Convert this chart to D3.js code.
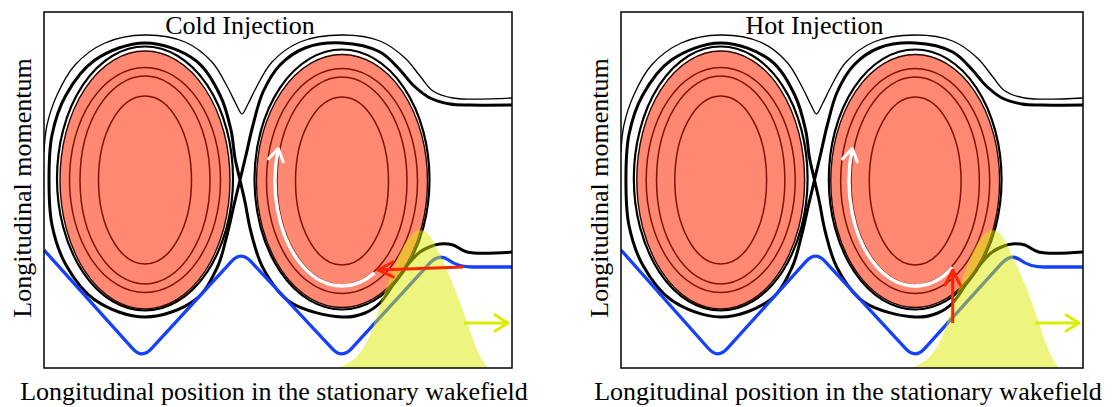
<!DOCTYPE html>
<meta charset="utf-8">
<html lang="en">
<head>
<title>Cold and hot injection in the stationary wakefield</title>
<style>
  body { margin: 0; background: #fff; }
  svg text { font-family: "Liberation Serif", "Times New Roman", serif; fill: #000; }
</style>
</head>
<body>
<svg width="1117" height="407"></svg>
<script src="https://d3js.org/d3.v7.min.js"></script>
<script>
// units: xi = longitudinal position, p = longitudinal momentum (0 at the bottom of the box)
var panelTitles = ["Cold Injection", "Hot Injection"]
var xLabel = "Longitudinal position in the stationary wakefield"
var yLabel = "Longitudinal momentum"

// open orbit above the buckets (thin line)
var outerOrbit = [
  [0, 2.16], [0.03, 2.43], [0.13, 2.73], [0.31, 3.03], [0.61, 3.25], [1.01, 3.33],
  [1.41, 3.26], [1.68, 3.06], [1.84, 2.80], [1.92, 2.64], [1.98, 2.54], [2.04, 2.64],
  [2.12, 2.80], [2.28, 3.06], [2.56, 3.26], [2.98, 3.33], [3.36, 3.27], [3.61, 3.10],
  [3.76, 2.92], [3.89, 2.77], [4.09, 2.70], [4.68, 2.70]
]

// separatrix, one stroke: right exit -> over bucket 2 -> X -> round bucket 1 -> X -> under bucket 2 -> right exit
var separatrix = [
  [4.68, 2.63], [4.26, 2.63], [4.06, 2.64], [3.86, 2.70], [3.69, 2.83], [3.56, 2.98],
  [3.36, 3.16], [2.98, 3.25], [2.61, 3.20], [2.36, 3.03], [2.19, 2.76], [2.09, 2.43],
  [2.02, 2.13], [1.96, 1.88], [1.90, 1.63], [1.83, 1.33], [1.73, 1.00], [1.51, 0.68],
  [1.01, 0.51], [0.51, 0.68], [0.22, 1.03], [0.08, 1.43], [0.05, 1.88], [0.08, 2.33],
  [0.22, 2.73], [0.51, 3.08], [1.01, 3.25], [1.51, 3.08], [1.76, 2.73], [1.87, 2.38],
  [1.91, 2.10], [1.96, 1.88], [2.01, 1.66], [2.07, 1.36], [2.19, 1.00], [2.46, 0.66],
  [2.98, 0.51], [3.21, 0.55], [3.36, 0.65], [3.49, 0.83], [3.61, 1.00], [3.76, 1.16],
  [3.88, 1.22], [3.96, 1.24], [4.09, 1.23], [4.23, 1.16], [4.68, 1.16]
]

var bucketCenters = [[1.01, 1.88], [2.98, 1.87]]
var bucketRadii = [[0.85, 1.29], [0.855, 1.265]]
var closedOrbitRadii = [[0.88, 1.32], [0.875, 1.30]]
var contourRadii = [[0.465, 0.84], [0.65, 1.04], [0.755, 1.125]]

// injection trajectory (blue)
var blueTrack = [[0, 1.18], [0.98, 0.09], [1.97, 1.17], [2.98, 0.09], [3.95, 1.15], [4.14, 1.01], [4.68, 1.01]]

// driver / beam profile (yellow)
var beamXi = [2.93, 3.06, 3.18, 3.28, 3.36, 3.46, 3.56, 3.66, 3.76, 3.86, 3.96, 4.06, 4.16, 4.24, 4.31, 4.38, 4.44]
var beamDensity = [0, 0.06, 0.18, 0.38, 0.63, 0.90, 1.15, 1.31, 1.38, 1.32, 1.13, 0.91, 0.66, 0.43, 0.23, 0.08, 0]
var beamArrow = [[4.2, 0.45], [4.64, 0.45]]

// white rotation arrow in bucket 2 (angles in degrees, screen sense)
var whiteArcRadii = [0.67, 1.05]
var whiteArcStart = [61, 55.5]
var whiteArcEnd = [198, 198]

// red injection arrows
var redArrowFrom = [[4.19, 1.01], [3.36, 0.45]]
var redArrowTo = [[3.34, 0.98], [3.36, 0.98]]

var panelLeft = [44, 621]
var panelRight = [512, 1083]
var panelTop = 12, panelBottom = 368

var salmon = '#fe8872', contourColor = '#7d1405', blue = '#1640ff'
var yellow = 'rgb(220,236,0)'

var svg = d3.select('svg')
var defs = svg.append('defs')

function marker(id, color, len, half) {
  defs.append('marker').attr('id', id)
    .attr('markerUnits', 'userSpaceOnUse')
    .attr('viewBox', '-20 -20 40 40')
    .attr('markerWidth', 40).attr('markerHeight', 40)
    .attr('refX', 0).attr('refY', 0).attr('orient', 'auto')
    .append('path')
    .attr('d', 'M' + (-len) + ',' + (-half) + 'L0,0L' + (-len) + ',' + half)
    .attr('fill', 'none').attr('stroke', color).attr('stroke-width', 3)
    .attr('stroke-linecap', 'round').attr('stroke-linejoin', 'round')
}
marker('head-red', '#ff2400', 15, 7.5)
marker('head-white', '#fff', 12, 7.5)
marker('head-yellow', yellow, 13, 8)

// straight segments with small rounded corners
function roundedPath(pts, r) {
  var p = d3.path()
  p.moveTo(pts[0][0], pts[0][1])
  for (var i = 1; i < pts.length - 1; i++) {
    var a = pts[i - 1], b = pts[i], c = pts[i + 1]
    var d1 = Math.hypot(b[0] - a[0], b[1] - a[1]), d2 = Math.hypot(c[0] - b[0], c[1] - b[1])
    var r1 = Math.min(r, d1 / 2), r2 = Math.min(r, d2 / 2)
    p.lineTo(b[0] - (b[0] - a[0]) * r1 / d1, b[1] - (b[1] - a[1]) * r1 / d1)
    p.quadraticCurveTo(b[0], b[1], b[0] + (c[0] - b[0]) * r2 / d2, b[1] + (c[1] - b[1]) * r2 / d2)
  }
  var last = pts[pts.length - 1]
  p.lineTo(last[0], last[1])
  return p.toString()
}

panelTitles.forEach(function (title, k) {
  var x = d3.scaleLinear().domain([0, 4.68]).range([panelLeft[k], panelRight[k]])
  var y = d3.scaleLinear().domain([0, 3.56]).range([panelBottom, panelTop])

  var clipId = 'clip' + k
  defs.append('clipPath').attr('id', clipId).append('rect')
    .attr('x', x(0)).attr('y', y(3.56)).attr('width', x(4.68) - x(0)).attr('height', y(0) - y(3.56))

  var g = svg.append('g').attr('clip-path', 'url(#' + clipId + ')')

  var smooth = d3.line()
    .x(function (d) { return x(d[0]) })
    .y(function (d) { return y(d[1]) })
    .curve(d3.curveCatmullRom.alpha(0.5))

  g.append('path').attr('d', smooth(outerOrbit))
    .attr('fill', 'none').attr('stroke', '#000').attr('stroke-width', 1.3)

  g.append('path').attr('d', smooth(separatrix))
    .attr('fill', 'none').attr('stroke', '#000').attr('stroke-width', 3)

  // closed orbits just inside the separatrix
  g.selectAll('ellipse.orbit').data(bucketCenters).enter().append('ellipse')
    .attr('class', 'orbit')
    .attr('cx', function (d) { return x(d[0]) })
    .attr('cy', function (d) { return y(d[1] + 0.015) })
    .attr('rx', function (d, i) { return x(d[0] + closedOrbitRadii[i][0]) - x(d[0]) })
    .attr('ry', function (d, i) { return y(d[1]) - y(d[1] + closedOrbitRadii[i][1]) })
    .attr('fill', 'none').attr('stroke', '#000').attr('stroke-width', 2.2)

  // trapped region
  g.selectAll('ellipse.bucket').data(bucketCenters).enter().append('ellipse')
    .attr('class', 'bucket')
    .attr('cx', function (d) { return x(d[0]) })
    .attr('cy', function (d) { return y(d[1]) })
    .attr('rx', function (d, i) { return x(d[0] + bucketRadii[i][0]) - x(d[0]) })
    .attr('ry', function (d, i) { return y(d[1]) - y(d[1] + bucketRadii[i][1]) })
    .attr('fill', salmon).attr('stroke', '#2a0500').attr('stroke-width', 1.4)

  bucketCenters.forEach(function (c) {
    g.selectAll(null).data(contourRadii).enter().append('ellipse')
      .attr('cx', x(c[0]))
      .attr('cy', y(c[1]))
      .attr('rx', function (r) { return x(c[0] + r[0]) - x(c[0]) })
      .attr('ry', function (r) { return y(c[1]) - y(c[1] + r[1]) })
      .attr('fill', 'none').attr('stroke', contourColor).attr('stroke-width', 1.5)
  })

  g.append('path')
    .attr('d', roundedPath(blueTrack.map(function (d) { return [x(d[0]), y(d[1])] }), 14))
    .attr('fill', 'none').attr('stroke', blue).attr('stroke-width', 3.3)
    .attr('stroke-linejoin', 'round')

  // rotation inside bucket 2
  var c2 = bucketCenters[1]
  var arx = x(c2[0] + whiteArcRadii[0]) - x(c2[0])
  var ary = y(c2[1]) - y(c2[1] + whiteArcRadii[1])
  var t0 = whiteArcStart[k] * Math.PI / 180, t1 = whiteArcEnd[k] * Math.PI / 180
  var ccx = x(c2[0]), ccy = y(c2[1])
  g.append('path')
    .attr('d', 'M' + (ccx + arx * Math.cos(t0)) + ',' + (ccy + ary * Math.sin(t0)) +
      'A' + arx + ',' + ary + ' 0 0 1 ' + (ccx + arx * Math.cos(t1)) + ',' + (ccy + ary * Math.sin(t1)))
    .attr('fill', 'none').attr('stroke', '#fff').attr('stroke-width', 3.5)
    .attr('marker-end', 'url(#head-white)')

  // beam
  var area = d3.area()
    .x(function (d, i) { return x(beamXi[i]) })
    .y0(y(0))
    .y1(function (d) { return y(d) })
    .curve(d3.curveMonotoneX)
  g.append('path').attr('d', area(beamDensity))
    .attr('fill', yellow).attr('fill-opacity', 0.5)

  g.append('line')
    .attr('x1', x(redArrowFrom[k][0])).attr('y1', y(redArrowFrom[k][1]))
    .attr('x2', x(redArrowTo[k][0])).attr('y2', y(redArrowTo[k][1]))
    .attr('stroke', '#ff2400').attr('stroke-width', 3)
    .attr('marker-end', 'url(#head-red)')

  g.append('line')
    .attr('x1', x(beamArrow[0][0])).attr('y1', y(beamArrow[0][1]))
    .attr('x2', x(beamArrow[1][0])).attr('y2', y(beamArrow[1][1]))
    .attr('stroke', yellow).attr('stroke-width', 3)
    .attr('marker-end', 'url(#head-yellow)')

  svg.append('rect')
    .attr('x', x(0)).attr('y', y(3.56)).attr('width', x(4.68) - x(0)).attr('height', y(0) - y(3.56))
    .attr('fill', 'none').attr('stroke', '#000').attr('stroke-width', 1.5)

  svg.append('text').text(title)
    .attr('x', x(1.96)).attr('y', 34)
    .attr('text-anchor', 'middle').attr('font-size', 26)

  svg.append('text').text(xLabel)
    .attr('x', x(2.3)).attr('y', 400)
    .attr('text-anchor', 'middle').attr('font-size', 26)

  svg.append('text').text(yLabel)
    .attr('transform', 'translate(' + (x(0) - 13) + ',' + 188 + ') rotate(-90)')
    .attr('text-anchor', 'middle').attr('font-size', 26)
})
</script>
</body>
</html>
